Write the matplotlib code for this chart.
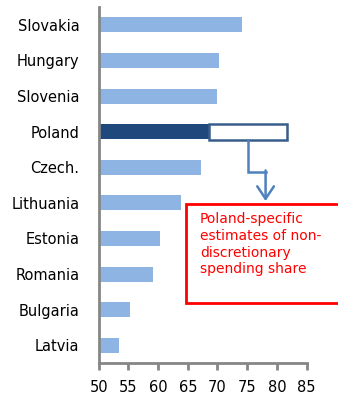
import matplotlib.pyplot as plt
from matplotlib.patches import Rectangle

# Share of non-discretionary spending, % of total
countries = ['Slovakia', 'Hungary', 'Slovenia', 'Poland', 'Czech.',
             'Lithuania', 'Estonia', 'Romania', 'Bulgaria', 'Latvia']
shares = [74.1, 70.3, 70.0, 68.5, 67.3, 63.8, 60.3, 59.1, 55.3, 53.5]
poland_estimate = [68.5, 81.75]   # range of Poland-specific estimates
x_ticks = [50, 55, 60, 65, 70, 75, 80, 85]

light = '#8DB4E2'
dark = '#1F497D'
arrow_col = '#4F81BD'
font = 'DejaVu Sans'

fig = plt.figure(figsize=(3.38, 3.95), dpi=100)
ax = fig.add_axes([0.292, 0.081, 0.615, 0.901])

pos = list(range(len(countries)))
colors = [dark if c == 'Poland' else light for c in countries]
ax.barh(pos, [s - 50 for s in shares], left=50, height=0.42,
        color=colors, edgecolor='none', zorder=2)

# white box for the Poland-specific estimate range
ip = countries.index('Poland')
ax.barh(ip, poland_estimate[1] - poland_estimate[0], left=poland_estimate[0],
        height=0.44, color='white', edgecolor='#385D8A', linewidth=1.8, zorder=3)

# elbow arrow from the estimate box down to the note
x0 = sum(poland_estimate) / 2
x1 = 78.1
y_box = ip + 0.22
y_mid = 4.12
y_tip = 4.95
ax.plot([x0, x0, x1], [y_box, y_mid, y_mid], color=arrow_col, lw=1.8,
        solid_joinstyle='miter', zorder=4, clip_on=False)
ax.annotate('', xy=(x1, y_tip), xytext=(x1, y_mid - 0.03),
            arrowprops=dict(arrowstyle='->, head_width=0.6, head_length=0.9',
                            color=arrow_col, lw=1.8, shrinkA=0, shrinkB=0),
            annotation_clip=False, zorder=4)

ax.set_xlim(50, 85)
ax.set_ylim(9.5, -0.5)
ax.set_xticks(x_ticks)
ax.set_xticklabels([str(t) for t in x_ticks], fontsize=10.5, family=font)
ax.set_yticks(pos)
ax.set_yticklabels(countries, fontsize=10.5, family=font)

for side in ['top', 'right']:
    ax.spines[side].set_visible(False)
for side in ['left', 'bottom']:
    ax.spines[side].set_color('#868686')
    ax.spines[side].set_linewidth(2)
ax.tick_params(axis='y', length=0, pad=14)
ax.tick_params(axis='x', length=5, width=2, color='#868686', pad=7)

# red note box (runs off the right edge)
fig.patches.append(Rectangle((186 / 338, 1 - 303 / 395), 160 / 338, 99 / 395,
                             transform=fig.transFigure, facecolor='white',
                             edgecolor='#FF0000', linewidth=2, zorder=5))
fig.text(200 / 338, 1 - 212 / 395,
         'Poland-specific\nestimates of non-\ndiscretionary\nspending share',
         color='#FF0000', fontsize=10, family=font, va='top', ha='left',
         linespacing=1.25, zorder=6)

fig.savefig('out.png', dpi=100)
